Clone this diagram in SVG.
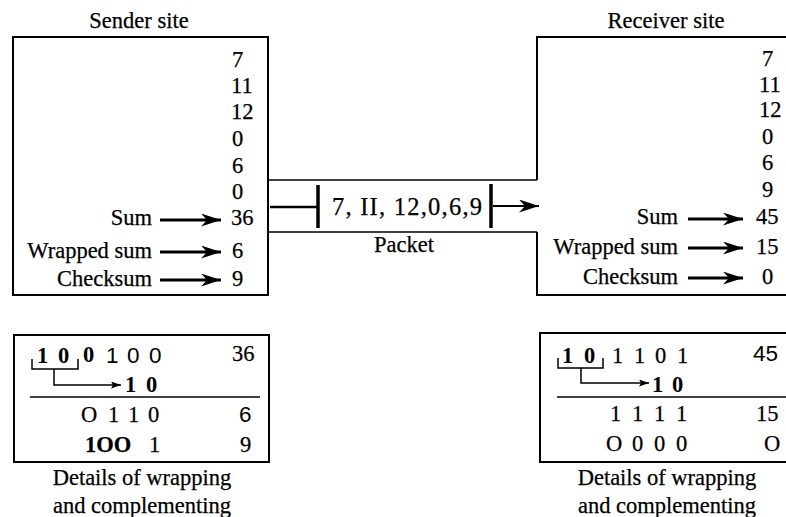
<svg xmlns="http://www.w3.org/2000/svg" width="786" height="517" viewBox="0 0 786 517">
<defs>
<marker id="big" markerUnits="userSpaceOnUse" markerWidth="22" markerHeight="13" refX="20" refY="6.5" orient="auto">
<path d="M0,0 L20,6.5 L0,13 L6,6.5 Z" fill="#000"/>
</marker>
<marker id="small" markerUnits="userSpaceOnUse" markerWidth="11" markerHeight="7" refX="10" refY="3.5" orient="auto">
<path d="M0,0 L10,3.5 L0,7 L2,3.5 Z" fill="#000"/>
</marker>
</defs>
<style>
.s{font-family:"Liberation Serif","Times New Roman",serif;font-size:22.5px;fill:#000;stroke:#000;stroke-width:0.25}
.b{font-family:"Liberation Serif","Times New Roman",serif;font-size:22.5px;font-weight:bold;fill:#000}
.ss{font-family:"Liberation Sans",Arial,sans-serif;font-size:22.5px;fill:#000}
.e{text-anchor:end}
.m{text-anchor:middle}
.box{fill:none;stroke:#000;stroke-width:2}
.ln{fill:none;stroke:#000;stroke-width:1.5}
.ar{fill:none;stroke:#000;stroke-width:3;marker-end:url(#big)}
.sa{fill:none;stroke:#000;stroke-width:1.5;marker-end:url(#small)}
.bar{stroke:#000;stroke-width:3.5}
</style>
<rect width="786" height="517" fill="#fff"/>

<g id="sender">
<text class="s m" x="139" y="28">Sender site</text>
<rect class="box" x="13" y="37" width="255" height="258"/>
<text class="s" x="232" y="67">7</text>
<text class="s" x="231" y="93">11</text>
<text class="s" x="231" y="119">12</text>
<text class="s" x="232" y="146">0</text>
<text class="s" x="232" y="173">6</text>
<text class="s" x="232" y="199">0</text>
<text class="s e" x="152" y="225">Sum</text>
<text class="s" x="231" y="225">36</text>
<text class="s e" x="152" y="258">Wrapped sum</text>
<text class="s" x="232" y="258">6</text>
<text class="s e" x="152" y="286">Checksum</text>
<text class="s" x="232" y="286">9</text>
</g>

<g id="receiver">
<text class="s m" x="666" y="28">Receiver site</text>
<path class="box" d="M537,180 V37 H792 V295 H537 V232"/>
<text class="s" x="762" y="66">7</text>
<text class="s" x="759" y="92">11</text>
<text class="s" x="759" y="117">12</text>
<text class="s" x="762" y="144">0</text>
<text class="s" x="762" y="170">6</text>
<text class="s" x="762" y="197">9</text>
<text class="s e" x="678" y="224">Sum</text>
<text class="s" x="756" y="224">45</text>
<text class="s e" x="678" y="254">Wrapped sum</text>
<text class="s" x="756" y="254">15</text>
<text class="s e" x="678" y="284">Checksum</text>
<text class="s" x="762" y="284">0</text>
</g>

<g id="packet">
<line class="ln" x1="268" y1="180" x2="537" y2="180"/>
<line class="ln" x1="268" y1="232" x2="537" y2="232"/>
<line class="ln" x1="270" y1="207" x2="318" y2="207" style="stroke-width:2.5"/>
<line class="bar" x1="318" y1="185" x2="318" y2="228"/>
<text class="s" x="332" y="215" style="font-size:24.5px" textLength="150" lengthAdjust="spacing">7, II, 12,0,6,9</text>
<line class="bar" x1="491" y1="184" x2="491" y2="228"/>
<text class="s m" x="404" y="252">Packet</text>
</g>

<g id="sender-details">
<rect class="box" x="14" y="335" width="255" height="127"/>
<text class="b" x="37" y="363">1</text>
<text class="b" x="58" y="363">0</text>
<text class="b" x="83" y="362">0</text>
<text class="ss" x="106" y="363">1</text>
<text class="ss" x="127" y="363">0</text>
<text class="ss" x="149" y="363">0</text>
<text class="s" x="232" y="361">36</text>
<path class="ln" d="M32,359 V369 H78 V359"/>
<text class="b" x="125" y="392">1</text>
<text class="b" x="146" y="392">0</text>
<line class="ln" x1="30" y1="397" x2="260" y2="397"/>
<text class="s" x="81" y="422">O</text>
<text class="s" x="108" y="422">1</text>
<text class="s" x="128" y="422">1</text>
<text class="s" x="148" y="422">0</text>
<text class="ss" x="239" y="422">6</text>
<text class="s" x="85" y="452" style="font-weight:bold">1OO</text>
<text class="s" x="149" y="452">1</text>
<text class="s" x="240" y="452">9</text>
<text class="s m" x="142" y="485">Details of wrapping</text>
<text class="s m" x="142" y="513">and complementing</text>
</g>

<g id="receiver-details">
<path class="box" d="M792,333 H540 V462 H792"/>
<text class="b" x="562" y="363">1</text>
<text class="b" x="584" y="363">0</text>
<text class="s" x="612" y="363">1</text>
<text class="s" x="634" y="363">1</text>
<text class="s" x="655" y="363">0</text>
<text class="s" x="677" y="363">1</text>
<text class="ss" x="753" y="361">45</text>
<path class="ln" d="M558,358 V368 H603 V358"/>
<text class="b" x="652" y="392">1</text>
<text class="b" x="672" y="392">0</text>
<line class="ln" x1="557" y1="397" x2="786" y2="397"/>
<text class="s" x="610" y="421">1</text>
<text class="s" x="632" y="421">1</text>
<text class="s" x="654" y="421">1</text>
<text class="s" x="676" y="421">1</text>
<text class="s" x="756" y="421">15</text>
<text class="s" x="606" y="451">O</text>
<text class="s" x="632" y="451">0</text>
<text class="s" x="654" y="451">0</text>
<text class="s" x="676" y="451">0</text>
<text class="s" x="764" y="451">O</text>
<text class="s m" x="667" y="485">Details of wrapping</text>
<text class="s m" x="667" y="513">and complementing</text>
</g>

<g id="connectors">
<line class="ar" x1="160" y1="220" x2="221" y2="220"/>
<line class="ar" x1="160" y1="252" x2="221" y2="252"/>
<line class="ar" x1="160" y1="280" x2="221" y2="280"/>
<line class="ar" x1="688" y1="219" x2="743" y2="219"/>
<line class="ar" x1="688" y1="248" x2="743" y2="248"/>
<line class="ar" x1="688" y1="278" x2="743" y2="278"/>
<line class="ar" x1="493" y1="206" x2="539" y2="206" style="stroke-width:2"/>
<path class="sa" d="M54,369 V385 H121"/>
<path class="sa" d="M581,368 V383 H649"/>
</g>
</svg>
